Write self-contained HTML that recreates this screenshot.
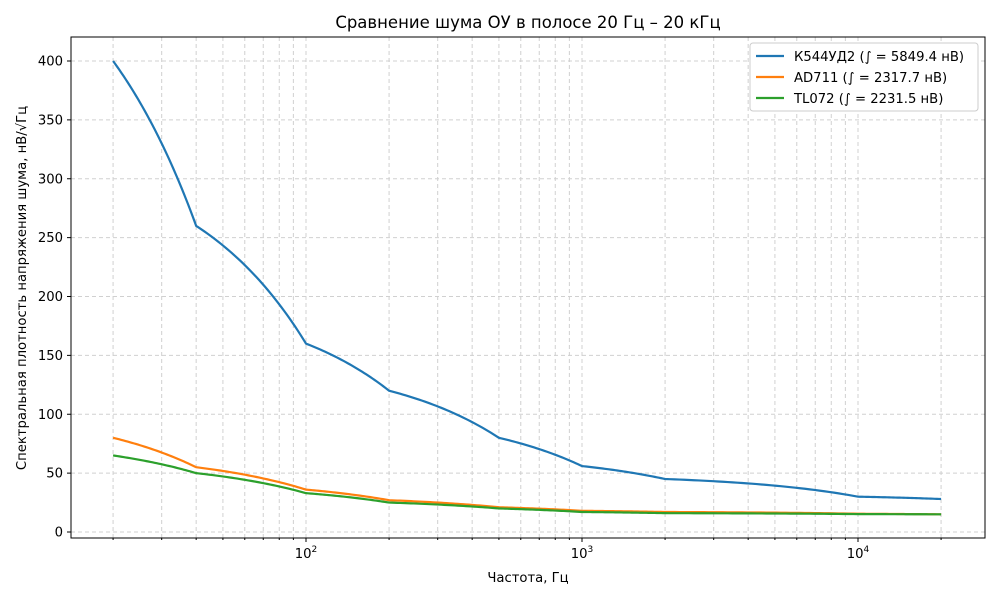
<!DOCTYPE html>
<html><head><meta charset="utf-8"><style>
body{margin:0;background:#fff}
svg{display:block;font-family:"DejaVu Sans","Liberation Sans",sans-serif}
</style></head><body>
<svg id="s" width="1000" height="600" xmlns="http://www.w3.org/2000/svg">
<rect width="1000" height="600" fill="#fff"/>
<g id="grid"></g>
<g id="lines" fill="none" stroke-width="2.2"></g>
<rect x="71" y="37" width="914" height="501" fill="none" stroke="#000" stroke-width="1"/>
<g id="ticks" font-size="13.2" fill="#000"></g>
<text x="528" y="28" font-size="16.5" text-anchor="middle">Сравнение шума ОУ в полосе 20 Гц – 20 кГц</text>
<text x="528" y="582" font-size="13.2" text-anchor="middle">Частота, Гц</text>
<text transform="translate(26,288) rotate(-90)" font-size="13.2" text-anchor="middle">Спектральная плотность напряжения шума, нВ/√Гц</text>
<g>
<rect x="750" y="43" width="228" height="68" rx="3" fill="#fff" stroke="#ccc"/>
<line x1="756" y1="56" x2="784" y2="56" stroke="#1f77b4" stroke-width="2.2"/>
<text x="794" y="61" font-size="13.2">К544УД2 (∫ = 5849.4 нВ)</text>
<line x1="756" y1="77" x2="784" y2="77" stroke="#ff7f0e" stroke-width="2.2"/>
<text x="794" y="82" font-size="13.2">AD711 (∫ = 2317.7 нВ)</text>
<line x1="756" y1="98" x2="784" y2="98" stroke="#2ca02c" stroke-width="2.2"/>
<text x="794" y="103" font-size="13.2">TL072 (∫ = 2231.5 нВ)</text>
</g>
</svg>
<script>
const NS="http://www.w3.org/2000/svg";
const X=f=>306+276*(Math.log10(f)-2);
const Y=v=>532-v*1.1775;
function el(p,t,a,txt){const e=document.createElementNS(NS,t);for(const k in a)e.setAttribute(k,a[k]);if(txt!==undefined)e.textContent=txt;p.appendChild(e);return e;}
const g=document.getElementById('grid'),tk=document.getElementById('ticks');
for(let v=0;v<=400;v+=50){const y=Y(v);el(g,'line',{x1:71,x2:985,y1:y,y2:y,stroke:'#d0d0d0','stroke-dasharray':'4,3'});
el(tk,'line',{x1:67,x2:71,y1:y,y2:y,stroke:'#000'});el(tk,'text',{x:63,y:y+4.5,'text-anchor':'end'},v);}
for(let d=10;d<=10000;d*=10){for(let m=1;m<10;m++){const f=d*m;const x=X(f);if(x<71||x>985)continue;
el(g,'line',{x1:x,x2:x,y1:37,y2:538,stroke:'#d0d0d0','stroke-dasharray':'4,3'});
el(tk,'line',{x1:x,x2:x,y1:538,y2:m==1?542:540,stroke:'#000'});
if(m==1){const e=Math.log10(f);const t=el(tk,'text',{x:x,y:558,'text-anchor':'middle'});t.innerHTML='10<tspan font-size="9" dy="-6">'+e+'</tspan>';}}}
const data=[
['#1f77b4',[[20,400],[40,260],[100,160],[200,120],[500,80],[1000,56],[2000,45],[10000,30],[20000,28]]],
['#ff7f0e',[[20,80],[40,55],[100,36],[200,27],[500,21],[1000,18],[2000,17],[10000,15.5],[20000,15]]],
['#2ca02c',[[20,65],[40,50],[100,33],[200,25],[500,20],[1000,17],[2000,16],[10000,15.2],[20000,15]]]];
const L=document.getElementById('lines');
for(const [c,p] of data){let d='';for(let i=0;i<p.length-1;i++){const[f0,v0]=p[i],[f1,v1]=p[i+1];
for(let k=0;k<=40;k++){const f=f0*Math.pow(f1/f0,k/40);const v=v0+(v1-v0)*(f-f0)/(f1-f0);d+=(d?'L':'M')+X(f).toFixed(2)+','+Y(v).toFixed(2);}}
el(L,'path',{d:d,stroke:c});}
</script>
</body></html>
